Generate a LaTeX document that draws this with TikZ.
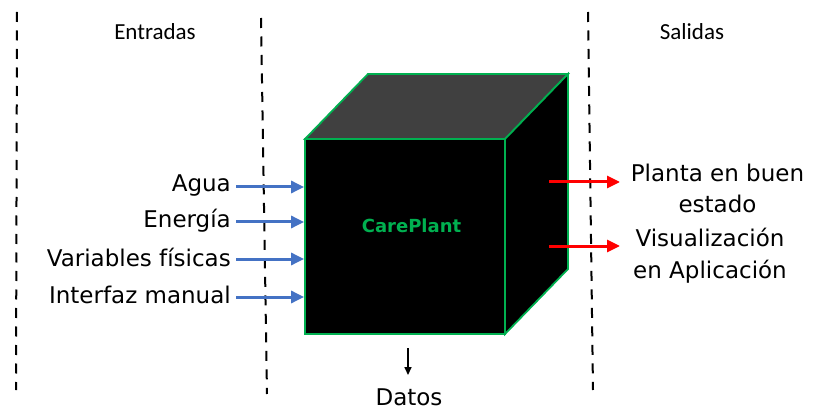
\documentclass[tikz,border=0pt]{standalone}
\usepackage{fontspec}
\setmainfont{DejaVu Sans}
\newfontfamily\calfont{Carlito}
\usetikzlibrary{arrows.meta}
\definecolor{cubegreen}{HTML}{00B050}
\definecolor{topgray}{HTML}{404040}
\definecolor{inblue}{HTML}{4472C4}
\tikzset{
  sepline/.style={line width=2pt, dash pattern=on 10pt off 8.5pt},
  lbl/.style={inner sep=0pt, font=\fontsize{23}{32}\selectfont},
  head/.style={inner sep=0pt, font=\calfont\fontsize{23}{28}\selectfont},
  inarrow/.style={draw=inblue, line width=3pt, -{Triangle[length=13pt,width=12pt]}},
  outarrow/.style={draw=red, line width=3pt, -{Triangle[length=13pt,width=12pt]}},
  face/.style={draw=cubegreen, line width=1.8pt, line join=miter}
}
\begin{document}
\begin{tikzpicture}[x=1pt,y=-1pt]
\useasboundingbox (0,0) rectangle (828,409);
% separator lines
\draw[sepline] (17,12) -- (16,390);
\draw[sepline] (261,18) -- (267,394);
\draw[sepline] (588,12) -- (593,390);
% headers
\node[head, anchor=base] (entradas) at (155,40) {Entradas};
\node[head, anchor=base] (salidas) at (692,40) {Salidas};
% cube
\draw[face, fill=topgray] (305,139) -- (368,74) -- (568,74) -- (505,139) -- cycle;
\draw[face, fill=black] (505,139) -- (568,74) -- (568,269) -- (505,334) -- cycle;
\node[face, fill=black, minimum width=200pt, minimum height=195pt, inner sep=0pt] (front) at (405,236.5) {};
\node[inner sep=0pt, text=cubegreen, font=\bfseries\fontsize{18}{22}\selectfont, anchor=base] (careplant) at (411.5,233) {CarePlant};
% inputs
\node[lbl, anchor=base east] (agua) at (231,192) {Agua};
\node[lbl, anchor=base east] (energia) at (231,227) {Energía};
\node[lbl, anchor=base east] (variables) at (231,266) {Variables físicas};
\node[lbl, anchor=base east] (interfaz) at (231,303) {Interfaz manual};
\coordinate (a1) at (236,187);
\coordinate (a2) at (236,222);
\coordinate (a3) at (236,259);
\coordinate (a4) at (236,297);
\draw[inarrow] (a1) -- (a1 -| front.west);
\draw[inarrow] (a2) -- (a2 -| front.west);
\draw[inarrow] (a3) -- (a3 -| front.west);
\draw[inarrow] (a4) -- (a4 -| front.west);
% outputs (base anchor = last line)
\node[lbl, anchor=base, align=center] (planta) at (717.5,213) {Planta en buen\\estado};
\node[lbl, anchor=base, align=center] (visual) at (710,278) {Visualización\\en Aplicación};
\coordinate (o1) at (549,182);
\coordinate (o2) at (549,246);
\coordinate (e1) at (620,182);
\coordinate (e2) at (620,246);
\draw[outarrow] (o1) -- (e1);
\draw[outarrow] (o2) -- (e2);
% datos
\node[lbl, anchor=base] (datos) at (409,405) {Datos};
\coordinate (d0) at (408,348);
\draw[line width=1.5pt, -{Triangle[length=8pt,width=7pt]}, shorten >=13pt] (d0) -- (d0 |- datos.north);
\end{tikzpicture}
\end{document}
